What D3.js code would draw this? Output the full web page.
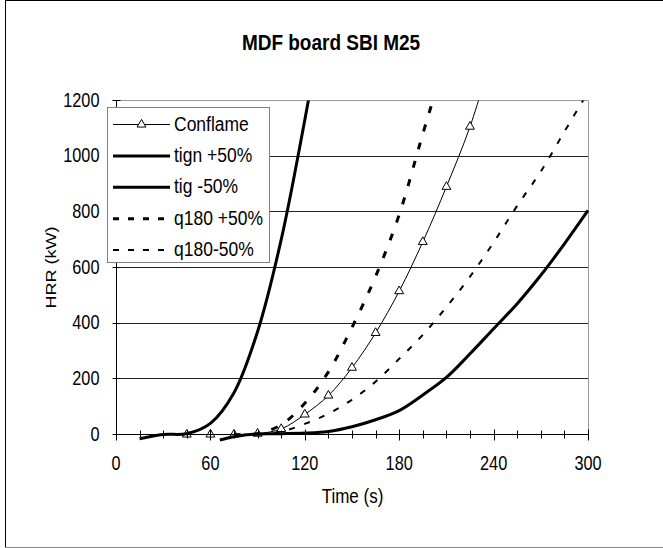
<!DOCTYPE html>
<html>
<head>
<meta charset="utf-8">
<script src="https://cdn.jsdelivr.net/npm/d3@7"></script>
<style>
    body { margin: 0; background: #fff; }
    text { font-family: "Liberation Sans", Arial, sans-serif; fill: #000; }
</style>
</head>
<body>
<div id="content-area"></div>
<script>
// Axis ticks
const xTicks = [0, 60, 120, 180, 240, 300];
const yTicks = [0, 200, 400, 600, 800, 1000, 1200];

// Series names (legend order)
const seriesNames = ["Conflame", "tign +50%", "tig -50%", "q180 +50%", "q180-50%"];

// Conflame
const tConflame = [45, 60, 75, 90, 105, 120, 135, 150, 165, 180, 195, 210, 225, 240];
const hrrConflame = [0, 0, 0, 3, 20, 72, 140, 240, 365, 515, 692, 890, 1106, 1380];

// tign +50%
const tTignPlus = [66, 75, 90, 105, 120, 135, 150, 165, 180, 195, 210, 225, 240, 255, 270, 285, 300];
const hrrTignPlus = [-20, -8, 2, 3, 5, 11, 28, 53, 86, 142, 205, 290, 380, 470, 572, 685, 805];

// tig -50%
const tTigMinus = [15, 30, 45, 60, 75, 90, 105, 120, 135];
const hrrTigMinus = [-15, 0, 3, 40, 150, 370, 700, 1130, 1600];

// q180 +50%
const tQPlus = [75, 90, 105, 120, 135, 150, 165, 180, 195, 210];
const hrrQPlus = [0, 3, 35, 112, 225, 385, 568, 790, 1080, 1360];

// q180-50%
const tQMinus = [90, 105, 120, 135, 150, 165, 180, 195, 210, 225, 240, 255, 270, 285, 300];
const hrrQMinus = [0, 10, 38, 75, 125, 190, 272, 358, 458, 567, 690, 822, 945, 1088, 1230];

function init() {
    const w = 663;
    const h = 548;
    const sy = 1.2; // text in the original is stretched vertically

    const svg = d3.select("#content-area")
                    .append("svg")
                    .attr("width", w)
                    .attr("height", h);

    // chart border
    svg.append("line").attr("x1", 5.5).attr("y1", 0).attr("x2", 5.5).attr("y2", 547.5)
        .attr("stroke", "#000");
    svg.append("line").attr("x1", 5.5).attr("y1", 0.5).attr("x2", 663).attr("y2", 0.5)
        .attr("stroke", "#000");
    svg.append("line").attr("x1", 5.5).attr("y1", 547.5).attr("x2", 663).attr("y2", 547.5)
        .attr("stroke", "#888");

    const x = d3.scaleLinear().domain([0, 300]).range([116, 588]);
    const y = d3.scaleLinear().domain([0, 1200]).range([434.5, 100.5]);
    const px = v => Math.round(x(v)) + 0.5;
    const py = v => Math.floor(y(v)) + 0.5;

    // helper: put text at a point with vertical stretch
    function label(txt, tx, ty, size, anchor, weight) {
        return svg.append("text")
            .text(txt)
            .attr("transform", "translate(" + tx + "," + ty + ") scale(1," + sy + ")")
            .attr("font-size", size + "px")
            .attr("text-anchor", anchor || "start")
            .attr("font-weight", weight || "normal");
    }

    // gridlines
    svg.selectAll(".grid")
        .data(yTicks.filter(d => d > 0 && d < 1200))
        .enter()
        .append("line")
        .attr("x1", x(0)).attr("x2", x(300))
        .attr("y1", d => py(d)).attr("y2", d => py(d))
        .attr("stroke", "#222");

    // plot area top and right border
    svg.append("line").attr("x1", x(0)).attr("x2", px(300))
        .attr("y1", py(1200)).attr("y2", py(1200)).attr("stroke", "#999");
    svg.append("line").attr("x1", px(300)).attr("x2", px(300))
        .attr("y1", py(1200)).attr("y2", py(0)).attr("stroke", "#999");

    // clip for the curves
    svg.append("clipPath").attr("id", "plotclip")
        .append("rect")
        .attr("x", x(0) - 1).attr("y", py(1200))
        .attr("width", x(300) - x(0) + 3).attr("height", 360);

    const series = [
        { t: tConflame, v: hrrConflame },
        { t: tTignPlus, v: hrrTignPlus },
        { t: tTigMinus, v: hrrTigMinus },
        { t: tQPlus, v: hrrQPlus },
        { t: tQMinus, v: hrrQMinus }
    ];
    const styles = [
        { width: 1, dash: null, marker: true },
        { width: 3, dash: null },
        { width: 3, dash: null },
        { width: 3, dash: "7,12" },
        { width: 2, dash: "6,10" }
    ];

    const line = d3.line()
        .x(d => x(d[0]))
        .y(d => y(d[1]))
        .curve(d3.curveCatmullRom);

    const plot = svg.append("g").attr("clip-path", "url(#plotclip)");

    series.forEach(function(s, i) {
        const pts = s.t.map((t, j) => [t, s.v[j]]);
        plot.append("path")
            .datum(pts)
            .attr("d", line)
            .attr("fill", "none")
            .attr("stroke", "#000")
            .attr("stroke-width", styles[i].width)
            .attr("stroke-dasharray", styles[i].dash);
        if (styles[i].marker) {
            plot.selectAll(".mk" + i)
                .data(pts)
                .enter()
                .append("path")
                .attr("d", d3.symbol(d3.symbolTriangle, 34))
                .attr("transform", d => "translate(" + x(d[0]) + "," + y(d[1]) + ")")
                .attr("fill", "#fff")
                .attr("stroke", "#000")
                .attr("stroke-width", 1);
        }
    });

    // axes (lines and ticks)
    const minor = d3.range(0, 301, 15);
    svg.append("line").attr("x1", x(0)).attr("x2", px(300))
        .attr("y1", py(0)).attr("y2", py(0)).attr("stroke", "#000");
    svg.selectAll(".xt")
        .data(minor)
        .enter()
        .append("line")
        .attr("x1", d => px(d)).attr("x2", d => px(d))
        .attr("y1", d => py(0) - (d % 60 == 0 ? 5 : 4))
        .attr("y2", d => py(0) + (d % 60 == 0 ? 6 : 4))
        .attr("stroke", "#000");

    svg.append("line").attr("x1", px(0)).attr("x2", px(0))
        .attr("y1", py(1200)).attr("y2", py(0)).attr("stroke", "#000");
    svg.selectAll(".yt")
        .data(yTicks)
        .enter()
        .append("line")
        .attr("x1", px(0) - 4).attr("x2", px(0) + 4)
        .attr("y1", d => py(d)).attr("y2", d => py(d))
        .attr("stroke", "#000");

    // tick labels
    xTicks.forEach(function(d) {
        label(d, x(d), 470, 16.3, "middle");
    });
    yTicks.forEach(function(d) {
        label(d, 99.5, y(d) + 6, 16.3, "end");
    });

    // titles
    label("MDF board SBI M25", 331, 50, 19, "middle", "bold");
    label("Time (s)", 352.5, 503, 17, "middle");
    svg.append("text")
        .text("HRR (kW)")
        .attr("transform", "translate(56," + 267.5 + ") rotate(-90) scale(" + sy + ",1)")
        .attr("font-size", "15px")
        .attr("text-anchor", "middle");

    // legend
    svg.append("rect")
        .attr("x", 107.5).attr("y", 107.5)
        .attr("width", 162).attr("height", 155)
        .attr("fill", "#fff")
        .attr("stroke", "#808080");

    seriesNames.forEach(function(name, i) {
        const ly = 124.5 + i * 31.4;
        svg.append("line")
            .attr("x1", 113).attr("x2", 170)
            .attr("y1", ly).attr("y2", ly)
            .attr("stroke", "#000")
            .attr("stroke-width", styles[i].width)
            .attr("stroke-dasharray", styles[i].dash ? "6,9" : null);
        if (styles[i].marker) {
            svg.append("path")
                .attr("d", d3.symbol(d3.symbolTriangle, 34))
                .attr("transform", "translate(141.5," + ly + ")")
                .attr("fill", "#fff")
                .attr("stroke", "#000");
        }
        label(name, 174, ly + 6, 17.5, "start");
    });
}

window.onload = init;
</script>
</body>
</html>
